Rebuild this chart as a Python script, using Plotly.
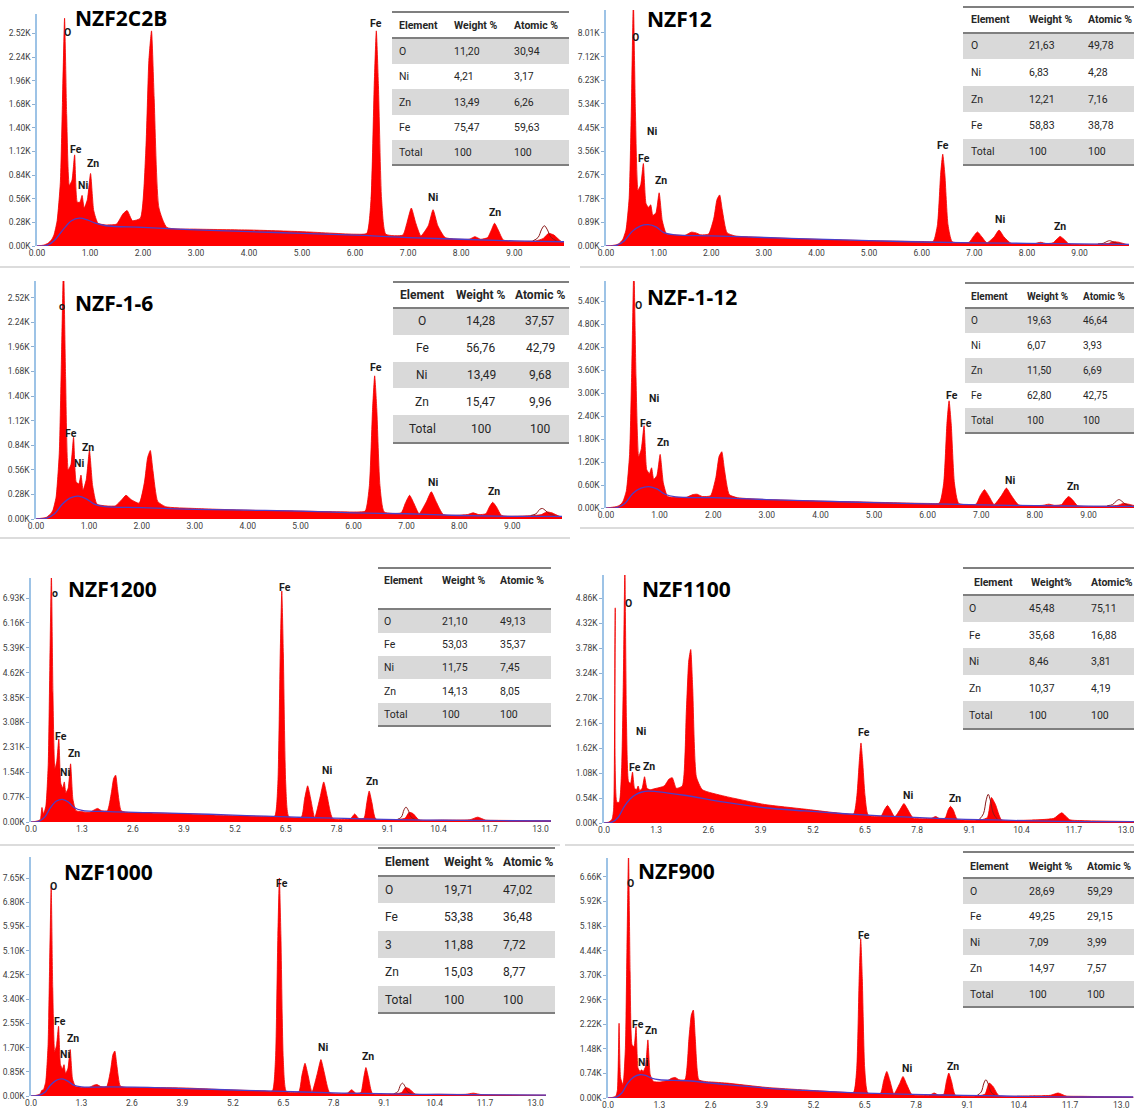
import plotly.graph_objects as go

W, H = 1134, 1119

# ---------------- data ----------------
energy = [0.00, 0.12, 0.20, 0.24, 0.28, 0.32, 0.38, 0.44, 0.48, 0.52,
          0.56, 0.61, 0.66, 0.71, 0.76, 0.81, 0.85, 0.89, 0.95, 1.01,
          1.07, 1.15, 1.30, 1.50, 1.62, 1.70, 1.80, 1.95, 2.05, 2.11,
          2.16, 2.21, 2.30, 2.45, 3.00, 4.00, 5.00, 6.00, 6.22, 6.30,
          6.36, 6.40, 6.44, 6.50, 6.58, 6.90, 6.98, 7.06, 7.14, 7.24,
          7.38, 7.47, 7.56, 7.70, 8.15, 8.26, 8.37, 8.50, 8.57, 8.63,
          8.70, 8.80, 9.40, 9.55, 9.65, 9.75, 9.90, 10.5, 11.2, 11.4,
          11.6, 12.0, 13.3]

bg_energy = [0.0, 0.2, 0.35, 0.5, 0.65, 0.8, 0.95, 1.1, 1.3, 2.0, 3.0, 4.0,
             5.0, 6.0, 7.0, 8.0, 9.0, 10.0, 11.0, 12.0, 13.3]

fit_energy = [9.35, 9.45, 9.52, 9.57, 9.62, 9.70, 9.80]

titles = ["NZF2C2B", "NZF12", "NZF-1-6", "NZF-1-12", "NZF1200", "NZF1100", "NZF1000", "NZF900"]

counts_nzf2c2b = [0, 0.01, 0.03, 0.05, 0.08, 0.13, 0.30, 0.75, 1.70, 2.70,
                  1.55, 0.72, 0.78, 1.08, 0.52, 0.52, 0.60, 0.45, 0.55, 0.86,
                  0.42, 0.27, 0.25, 0.26, 0.38, 0.42, 0.30, 0.33, 1.10, 2.20,
                  2.55, 1.75, 0.45, 0.22, 0.20, 0.19, 0.17, 0.14, 0.15, 0.55,
                  1.90, 2.55, 1.90, 0.55, 0.14, 0.13, 0.28, 0.45, 0.28, 0.12,
                  0.24, 0.43, 0.24, 0.10, 0.08, 0.11, 0.08, 0.10, 0.19, 0.27,
                  0.19, 0.07, 0.06, 0.09, 0.15, 0.13, 0.05, 0.04, 0.04, 0.04,
                  0.04, 0.03, 0.03]
counts_nzf12 = [0, 0.02, 0.05, 0.08, 0.15, 0.25, 0.60, 1.80, 5.00, 9.20,
                5.00, 2.10, 2.30, 3.10, 1.60, 1.45, 1.55, 1.15, 1.25, 2.00,
                0.95, 0.45, 0.42, 0.40, 0.52, 0.50, 0.42, 0.45, 1.05, 1.75,
                1.92, 1.35, 0.50, 0.38, 0.32, 0.25, 0.20, 0.17, 0.18, 0.80,
                2.70, 3.45, 2.70, 0.80, 0.16, 0.14, 0.35, 0.53, 0.35, 0.12,
                0.35, 0.60, 0.35, 0.10, 0.09, 0.14, 0.09, 0.12, 0.26, 0.36,
                0.26, 0.08, 0.07, 0.10, 0.16, 0.14, 0.06, 0.05, 0.05, 0.05,
                0.04, 0.04, 0.03]
counts_nzf16 = [0, 0.01, 0.02, 0.04, 0.06, 0.10, 0.25, 0.75, 1.80, 2.90,
                1.60, 0.56, 0.62, 0.93, 0.42, 0.40, 0.50, 0.33, 0.45, 0.78,
                0.38, 0.17, 0.15, 0.15, 0.22, 0.27, 0.22, 0.18, 0.42, 0.70,
                0.78, 0.55, 0.20, 0.14, 0.12, 0.10, 0.09, 0.08, 0.09, 0.38,
                1.25, 1.63, 1.25, 0.38, 0.08, 0.07, 0.18, 0.27, 0.18, 0.06,
                0.20, 0.31, 0.20, 0.05, 0.05, 0.07, 0.05, 0.06, 0.14, 0.19,
                0.14, 0.04, 0.04, 0.05, 0.08, 0.07, 0.03, 0.03, 0.03, 0.03,
                0.02, 0.02, 0.02]
counts_nzf112 = [0, 0.02, 0.04, 0.06, 0.10, 0.18, 0.45, 1.40, 3.60, 6.30,
                 3.40, 1.35, 1.55, 2.15, 1.00, 0.90, 1.05, 0.75, 0.85, 1.40,
                 0.65, 0.30, 0.28, 0.28, 0.35, 0.36, 0.30, 0.32, 0.80, 1.35,
                 1.47, 1.00, 0.35, 0.27, 0.22, 0.18, 0.15, 0.12, 0.13, 0.65,
                 2.20, 2.80, 2.20, 0.65, 0.12, 0.10, 0.32, 0.48, 0.32, 0.09,
                 0.33, 0.52, 0.33, 0.08, 0.07, 0.10, 0.07, 0.09, 0.22, 0.30,
                 0.22, 0.06, 0.05, 0.07, 0.12, 0.10, 0.05, 0.04, 0.04, 0.04,
                 0.03, 0.03, 0.03]
counts_nzf1200 = [0, 0.02, 0.05, 0.08, 0.45, 0.25, 0.50, 1.80, 4.80, 7.70,
                  4.00, 1.64, 1.90, 2.57, 1.20, 1.05, 1.24, 0.90, 1.05, 1.80,
                  0.70, 0.35, 0.32, 0.30, 0.38, 0.42, 0.35, 0.35, 0.90, 1.35,
                  1.45, 1.00, 0.35, 0.30, 0.28, 0.25, 0.20, 0.17, 0.18, 1.20,
                  5.20, 7.15, 5.20, 1.20, 0.16, 0.15, 0.70, 1.12, 0.70, 0.13,
                  0.78, 1.24, 0.78, 0.11, 0.10, 0.25, 0.10, 0.12, 0.60, 0.96,
                  0.60, 0.09, 0.08, 0.12, 0.30, 0.26, 0.07, 0.06, 0.07, 0.15,
                  0.06, 0.05, 0.04]
counts_nzf1100 = [0, 0.02, 0.08, 0.30, 4.65, 0.45, 0.45, 1.20, 3.00, 5.50,
                  2.20, 0.90, 0.85, 1.10, 0.75, 0.72, 0.80, 0.70, 0.75, 1.00,
                  0.75, 0.72, 0.75, 0.80, 0.95, 0.98, 0.75, 0.80, 2.40, 3.50,
                  3.75, 2.90, 1.00, 0.72, 0.58, 0.40, 0.30, 0.20, 0.20, 0.60,
                  1.35, 1.73, 1.35, 0.60, 0.17, 0.15, 0.28, 0.38, 0.28, 0.13,
                  0.30, 0.42, 0.30, 0.11, 0.10, 0.14, 0.09, 0.11, 0.28, 0.36,
                  0.28, 0.08, 0.07, 0.12, 0.55, 0.40, 0.07, 0.06, 0.10, 0.22,
                  0.07, 0.05, 0.03]
counts_nzf1000 = [0, 0.02, 0.05, 0.08, 0.20, 0.22, 0.50, 1.80, 4.60, 7.35,
                  3.80, 1.55, 1.80, 2.45, 1.10, 0.95, 1.10, 0.80, 0.95, 1.63,
                  0.60, 0.33, 0.30, 0.30, 0.38, 0.40, 0.33, 0.33, 0.90, 1.45,
                  1.58, 1.10, 0.35, 0.30, 0.30, 0.28, 0.22, 0.18, 0.18, 1.30,
                  5.60, 7.65, 5.60, 1.30, 0.16, 0.15, 0.72, 1.15, 0.72, 0.13,
                  0.80, 1.28, 0.80, 0.11, 0.10, 0.22, 0.10, 0.12, 0.62, 1.00,
                  0.62, 0.09, 0.08, 0.12, 0.30, 0.25, 0.07, 0.06, 0.06, 0.10,
                  0.05, 0.04, 0.03]
counts_nzf900 = [0, 0.02, 0.06, 0.25, 2.25, 0.60, 0.40, 1.50, 4.50, 7.40,
                 3.80, 1.60, 1.55, 2.15, 0.90, 0.80, 0.85, 0.80, 0.95, 1.75,
                 0.70, 0.50, 0.48, 0.52, 0.60, 0.62, 0.55, 0.55, 1.80, 2.50,
                 2.65, 1.80, 0.55, 0.50, 0.45, 0.32, 0.24, 0.17, 0.17, 0.90,
                 3.60, 4.80, 3.60, 0.90, 0.15, 0.14, 0.52, 0.80, 0.52, 0.12,
                 0.42, 0.65, 0.42, 0.10, 0.09, 0.15, 0.09, 0.11, 0.50, 0.75,
                 0.50, 0.08, 0.07, 0.12, 0.45, 0.35, 0.07, 0.06, 0.08, 0.15,
                 0.06, 0.05, 0.03]

bg_nzf2c2b = [0, 0.01, 0.08, 0.20, 0.30, 0.33, 0.31, 0.27, 0.24, 0.22, 0.19, 0.17, 0.15, 0.13, 0.10, 0.08, 0.06, 0.05, 0.04, 0.03, 0.03]
bg_nzf12 = [0, 0.02, 0.20, 0.55, 0.75, 0.80, 0.72, 0.50, 0.42, 0.38, 0.32, 0.26, 0.20, 0.15, 0.12, 0.10, 0.08, 0.06, 0.05, 0.04, 0.03]
bg_nzf16 = [0, 0.01, 0.06, 0.17, 0.24, 0.26, 0.23, 0.17, 0.14, 0.13, 0.11, 0.10, 0.09, 0.07, 0.06, 0.04, 0.03, 0.03, 0.02, 0.02, 0.02]
bg_nzf112 = [0, 0.01, 0.12, 0.38, 0.52, 0.56, 0.50, 0.36, 0.29, 0.27, 0.22, 0.18, 0.14, 0.11, 0.08, 0.06, 0.05, 0.04, 0.03, 0.03, 0.02]
bg_nzf1200 = [0, 0.02, 0.15, 0.45, 0.65, 0.70, 0.62, 0.45, 0.36, 0.32, 0.29, 0.26, 0.22, 0.18, 0.14, 0.11, 0.08, 0.06, 0.05, 0.04, 0.03]
bg_nzf1100 = [0, 0.02, 0.12, 0.35, 0.52, 0.62, 0.67, 0.69, 0.68, 0.60, 0.45, 0.33, 0.26, 0.20, 0.15, 0.11, 0.08, 0.06, 0.04, 0.03, 0.03]
bg_nzf1000 = [0, 0.02, 0.12, 0.38, 0.55, 0.60, 0.52, 0.38, 0.32, 0.32, 0.30, 0.26, 0.22, 0.18, 0.14, 0.10, 0.08, 0.06, 0.05, 0.04, 0.03]
bg_nzf900 = [0, 0.02, 0.15, 0.45, 0.63, 0.70, 0.68, 0.60, 0.55, 0.52, 0.40, 0.30, 0.23, 0.17, 0.13, 0.10, 0.08, 0.06, 0.04, 0.03, 0.03]

fit_nzf2c2b = [0.06, 0.10, 0.20, 0.24, 0.20, 0.10, 0.06]
fit_nzf12 = [0.08, 0.10, 0.17, 0.20, 0.17, 0.10, 0.07]
fit_nzf16 = [0.04, 0.06, 0.11, 0.12, 0.10, 0.06, 0.04]
fit_nzf112 = [0.06, 0.09, 0.18, 0.22, 0.18, 0.09, 0.06]
fit_nzf1200 = [0.08, 0.15, 0.38, 0.46, 0.38, 0.15, 0.08]
fit_nzf1100 = [0.08, 0.20, 0.50, 0.62, 0.50, 0.20, 0.08]
fit_nzf1000 = [0.08, 0.15, 0.38, 0.45, 0.38, 0.15, 0.08]
fit_nzf900 = [0.08, 0.18, 0.45, 0.55, 0.45, 0.18, 0.08]

yticks_nzf2c2b = [0.00, 0.28, 0.56, 0.84, 1.12, 1.40, 1.68, 1.96, 2.24, 2.52]
yticks_nzf12 = [0.00, 0.89, 1.78, 2.67, 3.56, 4.45, 5.34, 6.23, 7.12, 8.01]
yticks_nzf16 = [0.00, 0.28, 0.56, 0.84, 1.12, 1.40, 1.68, 1.96, 2.24, 2.52]
yticks_nzf112 = [0.00, 0.60, 1.20, 1.80, 2.40, 3.00, 3.60, 4.20, 4.80, 5.40]
yticks_nzf1200 = [0.00, 0.77, 1.54, 2.31, 3.08, 3.85, 4.62, 5.39, 6.16, 6.93]
yticks_nzf1100 = [0.00, 0.54, 1.08, 1.62, 2.16, 2.70, 3.24, 3.78, 4.32, 4.86]
yticks_nzf1000 = [0.00, 0.85, 1.70, 2.55, 3.40, 4.25, 5.10, 5.95, 6.80, 7.65]
yticks_nzf900 = [0.00, 0.74, 1.48, 2.22, 2.96, 3.70, 4.44, 5.18, 5.92, 6.66]

xticks_short = [0, 1, 2, 3, 4, 5, 6, 7, 8, 9]
xticks_long = [0.0, 1.3, 2.6, 3.9, 5.2, 6.5, 7.8, 9.1, 10.4, 11.7, 13.0]

# peak labels: text, energy (keV), counts (K)
labels_nzf2c2b = [("O", 0.57, 2.53), ("Fe", 0.73, 1.14), ("Ni", 0.87, 0.72), ("Zn", 1.05, 0.98),
                  ("Fe", 6.40, 2.64), ("Ni", 7.47, 0.57), ("Zn", 8.63, 0.40)]
labels_nzf12 = [("O", 0.57, 7.85), ("Ni", 0.87, 4.30), ("Fe", 0.72, 3.30), ("Zn", 1.05, 2.45),
                ("Fe", 6.40, 3.76), ("Ni", 7.49, 0.98), ("Zn", 8.63, 0.72)]
labels_nzf16 = [("o", 0.50, 2.42), ("Fe", 0.66, 0.97), ("Ni", 0.81, 0.63), ("Zn", 0.99, 0.81),
                ("Fe", 6.42, 1.73), ("Ni", 7.50, 0.41), ("Zn", 8.65, 0.31)]
labels_nzf112 = [("O", 0.60, 5.30), ("Ni", 0.90, 2.87), ("Fe", 0.75, 2.22), ("Zn", 1.06, 1.70),
                 ("Fe", 6.45, 2.95), ("Ni", 7.54, 0.73), ("Zn", 8.71, 0.55)]
labels_nzf1200 = [("o", 0.60, 7.08), ("Fe", 0.77, 2.66), ("Zn", 1.10, 2.13), ("Ni", 0.87, 1.52),
                  ("Fe", 6.47, 7.27), ("Ni", 7.55, 1.60), ("Zn", 8.70, 1.24)]
labels_nzf1100 = [("O", 0.62, 4.75), ("Ni", 0.92, 1.97), ("Fe", 0.77, 1.21), ("Zn", 1.12, 1.23),
                  ("Fe", 6.48, 1.95), ("Ni", 7.56, 0.60), ("Zn", 8.73, 0.54)]
labels_nzf1000 = [("O", 0.59, 7.37), ("Fe", 0.75, 2.63), ("Zn", 1.08, 2.03), ("Ni", 0.88, 1.44),
                  ("Fe", 6.47, 7.47), ("Ni", 7.53, 1.72), ("Zn", 8.69, 1.40)]
labels_nzf900 = [("O", 0.58, 6.45), ("Fe", 0.76, 2.20), ("Zn", 1.08, 2.02), ("Ni", 0.88, 1.08),
                 ("Fe", 6.47, 4.91), ("Ni", 7.58, 0.90), ("Zn", 8.74, 0.96)]

# composition tables
header_std = ["Element", "Weight %", "Atomic %"]
header_nzf1100 = ["Element", "Weight%", "Atomic%"]

elements_nzf2c2b = ["O", "Ni", "Zn", "Fe", "Total"]
weight_nzf2c2b = ["11,20", "4,21", "13,49", "75,47", "100"]
atomic_nzf2c2b = ["30,94", "3,17", "6,26", "59,63", "100"]

elements_nzf12 = ["O", "Ni", "Zn", "Fe", "Total"]
weight_nzf12 = ["21,63", "6,83", "12,21", "58,83", "100"]
atomic_nzf12 = ["49,78", "4,28", "7,16", "38,78", "100"]

elements_nzf16 = ["O", "Fe", "Ni", "Zn", "Total"]
weight_nzf16 = ["14,28", "56,76", "13,49", "15,47", "100"]
atomic_nzf16 = ["37,57", "42,79", "9,68", "9,96", "100"]

elements_nzf112 = ["O", "Ni", "Zn", "Fe", "Total"]
weight_nzf112 = ["19,63", "6,07", "11,50", "62,80", "100"]
atomic_nzf112 = ["46,64", "3,93", "6,69", "42,75", "100"]

elements_nzf1200 = ["O", "Fe", "Ni", "Zn", "Total"]
weight_nzf1200 = ["21,10", "53,03", "11,75", "14,13", "100"]
atomic_nzf1200 = ["49,13", "35,37", "7,45", "8,05", "100"]

elements_nzf1100 = ["O", "Fe", "Ni", "Zn", "Total"]
weight_nzf1100 = ["45,48", "35,68", "8,46", "10,37", "100"]
atomic_nzf1100 = ["75,11", "16,88", "3,81", "4,19", "100"]

elements_nzf1000 = ["O", "Fe", "3", "Zn", "Total"]
weight_nzf1000 = ["19,71", "53,38", "11,88", "15,03", "100"]
atomic_nzf1000 = ["47,02", "36,48", "7,72", "8,77", "100"]

elements_nzf900 = ["O", "Fe", "Ni", "Zn", "Total"]
weight_nzf900 = ["28,69", "49,25", "7,09", "14,97", "100"]
atomic_nzf900 = ["59,29", "29,15", "3,99", "7,57", "100"]

# ---------------- layout specs (pixels) ----------------
NARROW = "Roboto, Liberation Sans, sans-serif"

panels = [
    dict(counts=counts_nzf2c2b, bg=bg_nzf2c2b, fit=fit_nzf2c2b, yt=yticks_nzf2c2b, lab=labels_nzf2c2b,
         px=(37, 564, 14, 246), xr=9.94, yr=2.75, long=False, title_xy=(73, 18),
         tab=dict(el=elements_nzf2c2b, wt=weight_nzf2c2b, at=atomic_nzf2c2b, hdr=header_std,
                  x0=392, x1=569, top=12, hy=25, rows=[38, 64, 89, 115, 140, 165],
                  cols=[397, 452, 512], hcols=None, align="left", fs=10.5)),
    dict(counts=counts_nzf12, bg=bg_nzf12, fit=fit_nzf12, yt=yticks_nzf12, lab=labels_nzf12,
         px=(606, 1129, 10, 246), xr=9.94, yr=8.87, long=False, title_xy=(645, 19),
         tab=dict(el=elements_nzf12, wt=weight_nzf12, at=atomic_nzf12, hdr=header_std,
                  x0=963, x1=1134, top=7, hy=20, rows=[33, 59, 86, 112, 139, 165],
                  cols=[969, 1027, 1086], hcols=None, align="left", fs=10.5)),
    dict(counts=counts_nzf16, bg=bg_nzf16, fit=fit_nzf16, yt=yticks_nzf16, lab=labels_nzf16,
         px=(36, 562, 281, 519), xr=9.94, yr=2.71, long=False, title_xy=(73, 303),
         tab=dict(el=elements_nzf16, wt=weight_nzf16, at=atomic_nzf16, hdr=header_std,
                  x0=393, x1=569, top=282, hy=295, rows=[308, 335, 362, 388, 415, 443],
                  cols=[422, 481, 540], hcols=None, align="center", fs=12)),
    dict(counts=counts_nzf112, bg=bg_nzf112, fit=fit_nzf112, yt=yticks_nzf112, lab=labels_nzf112,
         px=(606, 1134, 281, 508), xr=9.85, yr=5.93, long=False, title_xy=(645, 297),
         tab=dict(el=elements_nzf112, wt=weight_nzf112, at=atomic_nzf112, hdr=header_std,
                  x0=965, x1=1134, top=283, hy=296, rows=[308, 333, 358, 383, 408, 433],
                  cols=[969, 1025, 1081], hcols=None, align="left", fs=10)),
    dict(counts=counts_nzf1200, bg=bg_nzf1200, fit=fit_nzf1200, yt=yticks_nzf1200, lab=labels_nzf1200,
         px=(31, 551, 578, 822), xr=13.27, yr=7.55, long=True, title_xy=(66, 589),
         tab=dict(el=elements_nzf1200, wt=weight_nzf1200, at=atomic_nzf1200, hdr=header_std,
                  x0=378, x1=551, top=568, hy=580, rows=[609, 633, 656, 679, 703, 726],
                  cols=[382, 440, 498], hcols=None, align="left", fs=10.5)),
    dict(counts=counts_nzf1100, bg=bg_nzf1100, fit=fit_nzf1100, yt=yticks_nzf1100, lab=labels_nzf1100,
         px=(604, 1134, 575, 823), xr=13.2, yr=5.36, long=True, title_xy=(640, 589),
         tab=dict(el=elements_nzf1100, wt=weight_nzf1100, at=atomic_nzf1100, hdr=header_nzf1100,
                  x0=963, x1=1134, top=568, hy=582, rows=[595, 622, 648, 675, 701, 729],
                  cols=[967, 1027, 1089], hcols=[993, 1051, 1112], align="left", fs=10.5)),
    dict(counts=counts_nzf1000, bg=bg_nzf1000, fit=fit_nzf1000, yt=yticks_nzf1000, lab=labels_nzf1000,
         px=(31, 546, 857, 1096), xr=13.27, yr=8.39, long=True, title_xy=(62, 872),
         tab=dict(el=elements_nzf1000, wt=weight_nzf1000, at=atomic_nzf1000, hdr=header_std,
                  x0=378, x1=555, top=848, hy=862, rows=[876, 903, 931, 958, 986, 1013],
                  cols=[383, 442, 501], hcols=None, align="left", fs=12)),
    dict(counts=counts_nzf900, bg=bg_nzf900, fit=fit_nzf900, yt=yticks_nzf900, lab=labels_nzf900,
         px=(608, 1134, 858, 1098), xr=13.32, yr=7.23, long=True, title_xy=(636, 871),
         tab=dict(el=elements_nzf900, wt=weight_nzf900, at=atomic_nzf900, hdr=header_std,
                  x0=963, x1=1134, top=852, hy=866, rows=[878, 904, 929, 955, 981, 1007],
                  cols=[968, 1027, 1085], hcols=None, align="left", fs=10.5)),
]


def pxx(x):
    return x / W


def pxy(y):
    return 1 - y / H


fig = go.Figure()
shapes = []
annotations = []
layout_axes = {}

for i, p in enumerate(panels, start=1):
    xa = "x" if i == 1 else f"x{i}"
    ya = "y" if i == 1 else f"y{i}"
    l, r, t, b = p["px"]
    # spectrum fill
    fig.add_trace(go.Scatter(x=energy, y=p["counts"], mode="lines", fill="tozeroy",
                             fillcolor="#FF0000",
                             line=dict(color="#F00000", width=0.8, shape="spline", smoothing=0.5),
                             xaxis=xa, yaxis=ya, showlegend=False, hoverinfo="skip"))
    # fit outline (dark red)
    fig.add_trace(go.Scatter(x=fit_energy, y=p["fit"], mode="lines",
                             line=dict(color="#8B1A1A", width=1, shape="spline"),
                             xaxis=xa, yaxis=ya, showlegend=False, hoverinfo="skip"))
    # background curve
    fig.add_trace(go.Scatter(x=bg_energy, y=p["bg"], mode="lines",
                             line=dict(color="#4B3FC8", width=1.3, shape="spline"),
                             xaxis=xa, yaxis=ya, showlegend=False, hoverinfo="skip"))

    long = p["long"]
    xt = xticks_long if long else xticks_short
    xkey = "xaxis" if i == 1 else f"xaxis{i}"
    ykey = "yaxis" if i == 1 else f"yaxis{i}"
    layout_axes[xkey] = dict(domain=[pxx(l), pxx(r)], range=[0, p["xr"]], anchor=ya,
                             tickvals=xt,
                             ticktext=[(f"{v:.1f}" if long else f"{v:.2f}") for v in xt],
                             showgrid=False, zeroline=False, showline=False, ticks="",
                             ticklabeloverflow="allow",
                             tickfont=dict(family=NARROW, size=8.5, color="#404040"),
                             automargin=False, fixedrange=True)
    layout_axes[ykey] = dict(domain=[pxy(b), pxy(t)], range=[0, p["yr"]], anchor=xa,
                             tickvals=p["yt"], ticktext=[f"{v:.2f}K" for v in p["yt"]],
                             showgrid=False, zeroline=False, showline=True,
                             linecolor="#9DC3E6", linewidth=1.5, ticks="outside",
                             ticklen=3, tickcolor="#8FAFD0", tickwidth=1,
                             tickfont=dict(family=NARROW, size=8.5, color="#404040"),
                             automargin=False, fixedrange=True)

    # peak labels
    for txt, ex, cy in p["lab"]:
        annotations.append(dict(x=ex, y=cy, xref=xa, yref=ya, text=f"<b>{txt}</b>", showarrow=False,
                                font=dict(family=NARROW, size=10.5, color="#1a1a1a"),
                                xanchor="center", yanchor="middle"))
    # title
    tx, ty = p["title_xy"]
    annotations.append(dict(x=pxx(tx), y=pxy(ty), xref="paper", yref="paper",
                            text=f"<b>{titles[i-1]}</b>", showarrow=False,
                            font=dict(family="Open Sans, sans-serif", size=21, color="#000000"),
                            xanchor="left", yanchor="middle"))

    # table
    tb = p["tab"]
    rows = tb["rows"]
    for k in range(5):
        if k % 2 == 0:
            shapes.append(dict(type="rect", xref="paper", yref="paper",
                               x0=pxx(tb["x0"]), x1=pxx(tb["x1"]),
                               y0=pxy(rows[k + 1]), y1=pxy(rows[k]),
                               fillcolor="#D9D9D9", line=dict(width=0), layer="above"))
    for yy in (tb["top"], rows[0], rows[-1]):
        shapes.append(dict(type="line", xref="paper", yref="paper",
                           x0=pxx(tb["x0"]), x1=pxx(tb["x1"]), y0=pxy(yy), y1=pxy(yy),
                           line=dict(color="#7F7F7F", width=2), layer="above"))
    anchor = tb["align"]
    hcols = tb["hcols"] if tb["hcols"] else tb["cols"]
    hanchor = "center" if tb["hcols"] else anchor
    for c in range(3):
        annotations.append(dict(x=pxx(hcols[c]), y=pxy(tb["hy"]), xref="paper", yref="paper",
                                text=f"<b>{tb['hdr'][c]}</b>", showarrow=False,
                                font=dict(family=NARROW, size=tb["fs"], color="#262626"),
                                xanchor=hanchor, yanchor="middle"))
    cols_data = [tb["el"], tb["wt"], tb["at"]]
    for k in range(5):
        ymid = (rows[k] + rows[k + 1]) / 2
        for c in range(3):
            annotations.append(dict(x=pxx(tb["cols"][c]), y=pxy(ymid), xref="paper", yref="paper",
                                    text=cols_data[c][k], showarrow=False,
                                    font=dict(family=NARROW, size=tb["fs"], color="#262626"),
                                    xanchor=anchor, yanchor="middle"))

# light separators between panels
for (x0, x1, yy) in [(0, 570, 267), (580, 1134, 267), (0, 570, 538), (580, 1134, 528),
                     (0, 560, 845), (565, 1134, 845)]:
    shapes.append(dict(type="line", xref="paper", yref="paper",
                       x0=pxx(x0), x1=pxx(x1), y0=pxy(yy), y1=pxy(yy),
                       line=dict(color="#DCDCDC", width=2)))

fig.update_layout(width=W, height=H, margin=dict(l=0, r=0, t=0, b=0, pad=0), autosize=False,
                  paper_bgcolor="white", plot_bgcolor="white", showlegend=False,
                  shapes=shapes, annotations=annotations, **layout_axes)

fig.write_html("out.html", config={"displayModeBar": False},
               post_script="document.body.style.margin='0px';document.body.style.overflow='hidden';")
